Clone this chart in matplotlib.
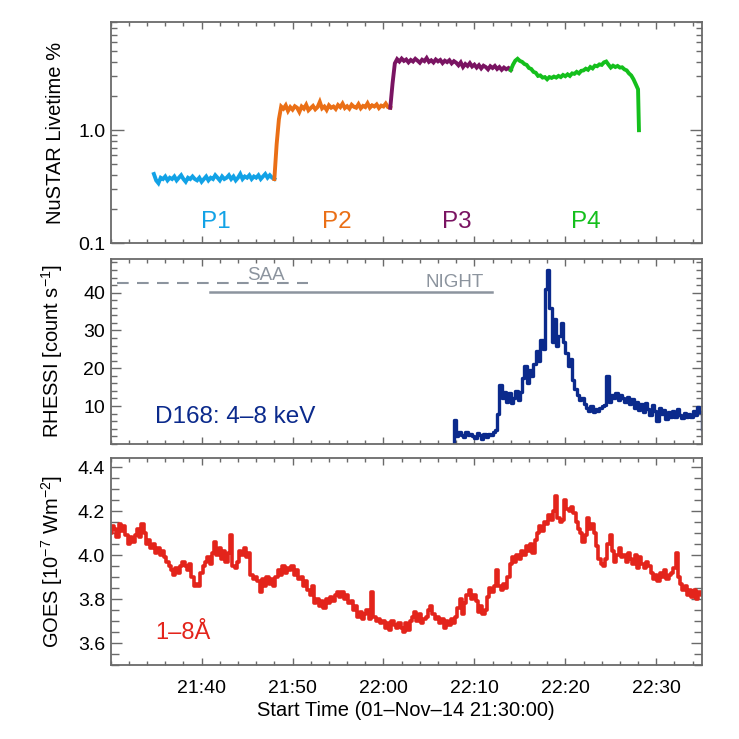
import numpy as np
import matplotlib
matplotlib.use('Agg')
import matplotlib.pyplot as plt
from matplotlib.ticker import FixedLocator, NullFormatter, MultipleLocator, FixedFormatter

plt.rcParams['font.family'] = ['Liberation Sans', 'DejaVu Sans']
plt.rcParams['mathtext.fontset'] = 'custom'
plt.rcParams['mathtext.rm'] = 'Liberation Sans'
plt.rcParams['mathtext.default'] = 'regular'

# ---------------- data (time in minutes after 21:30:00) ----------------
x_ticks = [10, 20, 30, 40, 50, 60]
x_tick_labels = ['21:40', '21:50', '22:00', '22:10', '22:20', '22:30']
x_label = 'Start Time (01–Nov–14 21:30:00)'

step = 0.25

# NuSTAR livetime (%) per period
p1_start = 4.75
p1_vals = [0.41, 0.36, 0.34, 0.38, 0.37, 0.39, 0.36, 0.38,
           0.37, 0.39, 0.36, 0.38, 0.40, 0.37, 0.35, 0.38,
           0.37, 0.39, 0.37, 0.36, 0.38, 0.35, 0.37, 0.39,
           0.36, 0.38, 0.37, 0.40, 0.38, 0.36, 0.39, 0.37,
           0.38, 0.40, 0.37, 0.39, 0.36, 0.38, 0.41, 0.37,
           0.39, 0.38, 0.40, 0.37, 0.39, 0.38, 0.40, 0.37,
           0.39, 0.41, 0.38, 0.40, 0.38, 0.37]
p2_start = 18.0
p2_vals = [0.37, 0.75, 1.25, 1.62, 1.55, 1.66, 1.48, 1.60,
           1.52, 1.63, 1.58, 1.45, 1.62, 1.55, 1.68, 1.50,
           1.57, 1.64, 1.53, 1.60, 1.78, 1.56, 1.62, 1.51,
           1.66, 1.58, 1.62, 1.54, 1.67, 1.60, 1.72, 1.57,
           1.63, 1.55, 1.68, 1.61, 1.58, 1.70, 1.56, 1.64,
           1.60, 1.73, 1.58, 1.66, 1.62, 1.69, 1.57, 1.65,
           1.62, 1.72, 1.60, 1.58]
p3_start = 30.75
p3_vals = [1.58, 2.60, 3.90, 4.25, 4.05, 4.30, 4.10, 4.22,
           3.98, 4.18, 4.05, 4.28, 4.12, 3.95, 4.20, 4.08,
           4.35, 4.02, 4.15, 3.97, 4.22, 4.06, 4.18, 3.92,
           4.12, 4.00, 4.16, 3.90, 4.08, 3.95, 3.75, 3.98,
           3.62, 3.85, 3.70, 3.92, 3.66, 3.80, 3.58, 3.76,
           3.52, 3.72, 3.62, 3.45, 3.68, 3.55, 3.70, 3.48,
           3.62, 3.42, 3.58, 3.46, 3.55, 3.40]
p4_start = 44.0
p4_vals = [3.40, 3.80, 4.12, 4.28, 4.10, 4.02, 3.85, 3.78,
           3.55, 3.48, 3.28, 3.22, 3.02, 3.05, 2.92, 2.95,
           2.82, 2.95, 2.90, 2.98, 2.92, 3.02, 2.95, 3.08,
           3.00, 3.12, 3.02, 3.18, 3.15, 3.28, 3.18, 3.35,
           3.38, 3.50, 3.42, 3.62, 3.52, 3.72, 3.68, 3.82,
           3.78, 3.98, 4.05, 3.80, 3.58, 3.72, 3.62, 3.70,
           3.58, 3.60, 3.45, 3.38, 3.18, 3.05, 2.82, 2.55,
           2.30]
p4_end_time = 58.1
p4_end_value = 1.0
period_names = ['P1', 'P2', 'P3', 'P4']
period_label_times = [11.6, 24.9, 38.1, 52.2]
period_colors = ['#12A2E6', '#EA6F16', '#7A1462', '#14BF1C']

# RHESSI D168 4-8 keV (counts/s)
rhessi_start = 37.75
rhessi_vals = [6.2, 2.0, 3.1, 2.4, 1.8, 3.0, 2.2, 2.7,
               2.1, 1.6, 2.9, 2.3, 1.2, 2.5, 1.8, 2.6,
               2.2, 3.2, 3.6, 8.0, 15.5, 12.0, 13.8, 11.0,
               13.5, 10.8, 12.2, 14.0, 11.5, 13.6, 17.5, 20.5,
               16.0, 19.5, 18.0, 21.0, 24.5, 22.0, 27.5, 25.0,
               41.0, 46.0, 36.0, 27.0, 33.0, 26.0, 28.5, 32.0,
               27.0, 24.0, 20.5, 22.5, 17.0, 14.5, 13.0, 11.5,
               12.0, 10.5, 9.5, 8.8, 10.0, 8.5, 9.2, 8.6,
               9.5, 10.0, 10.3, 18.0, 11.0, 13.0, 12.0, 13.5,
               11.5, 13.0, 12.0, 11.0, 12.5, 10.5, 11.8, 9.5,
               11.0, 9.0, 10.5, 8.5, 10.8, 9.2, 7.5, 10.2,
               8.8, 6.0, 9.5, 7.8, 9.0, 6.5, 8.5, 7.2,
               8.6, 7.0, 9.2, 7.5, 6.8, 8.2, 7.0, 8.0,
               7.2, 8.8, 7.5, 9.8, 8.5, 4.0]
saa_range = [0.66, 21.7]
saa_level = 42.5
night_range = [10.9, 41.9]
night_level = 40.1

# GOES 1-8 A (1e-7 W m^-2)
goes_start = 0.0
goes_vals = [4.10, 4.13, 4.12, 4.08, 4.14, 4.11, 4.13, 4.09,
             4.05, 4.08, 4.06, 4.09, 4.12, 4.08, 4.14, 4.10,
             4.05, 4.07, 4.03, 4.05, 4.01, 4.03, 4.00, 4.02,
             3.99, 3.97, 3.95, 3.93, 3.91, 3.94, 3.92, 3.95,
             3.97, 3.95, 3.93, 3.96, 3.90, 3.86, 3.87, 3.86,
             3.92, 3.95, 3.97, 3.99, 3.96, 4.01, 4.06, 4.00,
             4.03, 3.98, 4.02, 3.97, 4.01, 4.09, 3.95, 3.94,
             3.97, 4.02, 4.00, 4.03, 3.99, 4.01, 3.91, 3.89,
             3.90, 3.88, 3.83, 3.89, 3.86, 3.90, 3.87, 3.89,
             3.86, 3.90, 3.93, 3.91, 3.95, 3.92, 3.94, 3.93,
             3.95, 3.91, 3.93, 3.89, 3.90, 3.86, 3.88, 3.84,
             3.82, 3.86, 3.78, 3.80, 3.77, 3.79, 3.76, 3.80,
             3.78, 3.81, 3.79, 3.82, 3.83, 3.81, 3.83, 3.80,
             3.82, 3.78, 3.79, 3.75, 3.77, 3.72, 3.74, 3.71,
             3.73, 3.75, 3.71, 3.83, 3.72, 3.70, 3.71, 3.69,
             3.70, 3.67, 3.69, 3.66, 3.70, 3.68, 3.67, 3.69,
             3.67, 3.65, 3.69, 3.66, 3.70, 3.72, 3.74, 3.70,
             3.73, 3.69, 3.71, 3.72, 3.75, 3.77, 3.73, 3.71,
             3.72, 3.69, 3.71, 3.67, 3.70, 3.68, 3.71, 3.69,
             3.72, 3.76, 3.80, 3.73, 3.78, 3.82, 3.84, 3.80,
             3.82, 3.79, 3.74, 3.77, 3.73, 3.75, 3.81, 3.85,
             3.83, 3.86, 3.93, 3.86, 3.84, 3.87, 3.85, 3.90,
             3.96, 3.99, 3.97, 4.00, 3.98, 4.02, 4.00, 4.04,
             4.02, 4.05, 4.01, 4.07, 4.10, 4.13, 4.11, 4.15,
             4.14, 4.18, 4.16, 4.20, 4.27, 4.17, 4.15, 4.16,
             4.25, 4.21, 4.20, 4.22, 4.19, 4.15, 4.12, 4.10,
             4.06, 4.09, 4.17, 4.12, 4.14, 4.10, 4.04, 3.98,
             3.96, 3.95, 3.98, 4.05, 4.09, 4.02, 3.97, 4.00,
             4.03, 3.99, 4.00, 3.97, 4.01, 3.98, 3.96, 4.00,
             3.94, 3.99, 3.96, 3.94, 3.97, 3.95, 3.92, 3.89,
             3.91, 3.88, 3.92, 3.90, 3.93, 3.89, 3.91, 3.92,
             3.94, 4.01, 3.90, 3.87, 3.84, 3.86, 3.82, 3.84,
             3.81, 3.84, 3.80, 3.83, 3.82]

# ---------------- figure ----------------
W = 739
fig = plt.figure(figsize=(7.39, 7.39), dpi=100)

def px_axes(top, bottom, left=110.7, right=701.7):
    return fig.add_axes([left / W, 1 - bottom / W, (right - left) / W, (bottom - top) / W])

ax1 = px_axes(22.3, 243.3)
ax2 = px_axes(259.0, 443.8)
ax3 = px_axes(458.3, 665.0)

spine_c = '#6a6a6a'
tick_fs = 14
lab_fs = 14.5

def style(ax, ymaj_len, ymin_len):
    ax.set_xlim(0, 65)
    for s in ax.spines.values():
        s.set_color(spine_c)
        s.set_linewidth(1.3)
    ax.xaxis.set_major_locator(FixedLocator(x_ticks))
    ax.xaxis.set_minor_locator(MultipleLocator(2))
    ax.tick_params(axis='both', which='both', direction='in', top=True, right=True,
                   color=spine_c, width=1.0, labelsize=tick_fs, pad=4)
    ax.tick_params(axis='x', which='both', pad=10.5)
    ax.tick_params(axis='x', which='major', length=5)
    ax.tick_params(axis='x', which='minor', length=3)
    ax.tick_params(axis='y', which='major', length=ymaj_len)
    ax.tick_params(axis='y', which='minor', length=ymin_len)
    ax.yaxis.set_label_coords(-0.078, 0.5)

# ---- top: NuSTAR ----
ax1.set_yscale('log')
ax1.set_ylim(0.1, 9.0)
style(ax1, 9, 4.5)
ax1.yaxis.set_major_locator(FixedLocator([0.1, 1.0]))
ax1.yaxis.set_major_formatter(FixedFormatter(['0.1', '1.0']))
ax1.yaxis.set_minor_locator(FixedLocator([k * 0.1 for k in range(2, 10)] + [k * 1.0 for k in range(2, 10)]))
ax1.yaxis.set_minor_formatter(NullFormatter())
ax1.xaxis.set_major_formatter(NullFormatter())

starts = [p1_start, p2_start, p3_start, p4_start]
vals = [p1_vals, p2_vals, p3_vals, p4_vals]
for i, (s, v) in enumerate(zip(starts, vals)):
    t = s + step * np.arange(len(v))
    v = np.array(v)
    if i == 3:
        t = np.append(t, p4_end_time)
        v = np.append(v, p4_end_value)
    ax1.plot(t, v, color=period_colors[i], lw=2.8, solid_joinstyle='miter')
for name, tx, c in zip(period_names, period_label_times, period_colors):
    ax1.text(tx, 0.155, name, color=c, fontsize=17.5, ha='center', va='center')
ax1.set_ylabel('NuSTAR Livetime %', fontsize=lab_fs)

# ---- middle: RHESSI ----
ax2.set_ylim(0, 48.9)
style(ax2, 7, 4)
ax2.yaxis.set_major_locator(FixedLocator([10, 20, 30, 40]))
ax2.yaxis.set_minor_locator(MultipleLocator(2))
ax2.xaxis.set_major_formatter(NullFormatter())
rt = rhessi_start + step * np.arange(len(rhessi_vals))
rt = np.insert(rt, 0, rhessi_start)
rv = np.insert(np.array(rhessi_vals), 0, 0.0)
ax2.plot(rt, rv, color='#0B2A8C', lw=2.4, drawstyle='steps-post')
gray = '#8C949E'
ln, = ax2.plot(saa_range, [saa_level, saa_level], color=gray, lw=1.5)
ln.set_dashes([5.6, 4.0])
ax2.plot(night_range, [night_level, night_level], color=gray, lw=1.8)
ax2.text(17.1, 44.6, 'SAA', color=gray, fontsize=13.5, ha='center', va='center')
ax2.text(37.8, 42.7, 'NIGHT', color=gray, fontsize=13.5, ha='center', va='center')
ax2.text(4.9, 7.1, 'D168: 4–8 keV', color='#0B2A8C', fontsize=17.5, ha='left', va='center')
ax2.set_ylabel('RHESSI [count s$^{-1}$]', fontsize=lab_fs)

# ---- bottom: GOES ----
ax3.set_ylim(3.5, 4.44)
style(ax3, 8, 6)
ax3.yaxis.set_major_locator(FixedLocator([3.6, 3.8, 4.0, 4.2, 4.4]))
ax3.yaxis.set_major_formatter(FixedFormatter(['3.6', '3.8', '4.0', '4.2', '4.4']))
ax3.yaxis.set_minor_locator(MultipleLocator(0.05))
ax3.xaxis.set_major_formatter(FixedFormatter(x_tick_labels))
gt = goes_start + step * np.arange(len(goes_vals))
ax3.plot(gt, goes_vals, color='#E3241B', lw=2.6, drawstyle='steps-mid')
ax3.text(4.9, 3.646, '1–8Å', color='#E3241B', fontsize=17, ha='left', va='center')
ax3.set_ylabel('GOES [10$^{-7}$ Wm$^{-2}$]', fontsize=lab_fs)
ax3.set_xlabel(x_label, fontsize=lab_fs, labelpad=3)

fig.savefig('out.png', dpi=100)
